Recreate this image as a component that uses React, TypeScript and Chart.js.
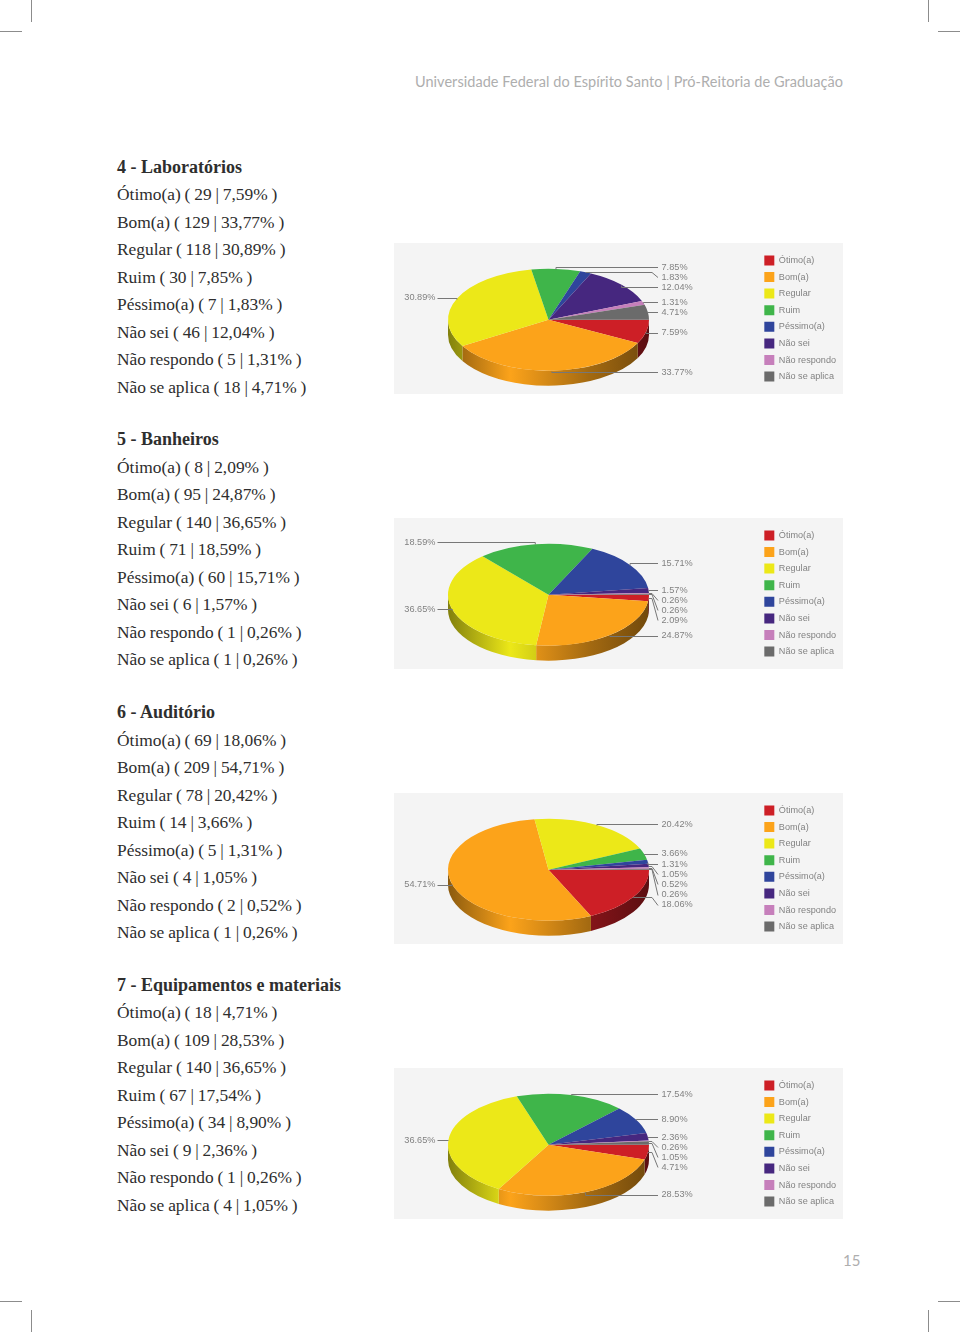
import React, { useEffect, useRef } from "react";
import { Chart, registerables } from "chart.js";

Chart.register(...registerables);

const categories = ["Ótimo(a)", "Bom(a)", "Regular", "Ruim", "Péssimo(a)", "Não sei", "Não respondo", "Não se aplica"];
const sliceColors = ["#cd1f26", "#fca31a", "#ece818", "#3fb54a", "#2f459c", "#46277f", "#c67fbb", "#6b6b6b"];

const labCounts = [29, 129, 118, 30, 7, 46, 5, 18];
const labPercents = [7.59, 33.77, 30.89, 7.85, 1.83, 12.04, 1.31, 4.71];
const banCounts = [8, 95, 140, 71, 60, 6, 1, 1];
const banPercents = [2.09, 24.87, 36.65, 18.59, 15.71, 1.57, 0.26, 0.26];
const audCounts = [69, 209, 78, 14, 5, 4, 2, 1];
const audPercents = [18.06, 54.71, 20.42, 3.66, 1.31, 1.05, 0.52, 0.26];
const equCounts = [18, 109, 140, 67, 34, 9, 1, 4];
const equPercents = [4.71, 28.53, 36.65, 17.54, 8.9, 2.36, 0.26, 1.05];

// Vertical offset of each percent label inside its panel
const labRows = [89.7, 129, 54.7, 24, 34, 44, 59.3, 69.3];
const banRows = [102.3, 117.7, 91.3, 24.3, 45.3, 72, 82, 92];
const audRows = [111.7, 91.7, 31, 60.7, 71, 81, 91.3, 101.7];
const equRows = [99, 126.7, 72.3, 26, 51.3, 69, 79, 89];

const sections = [
  { title: "4 - Laboratórios", counts: labCounts, percents: labPercents, rows: labRows, textTop: 153.7, panelTop: 243 },
  { title: "5 - Banheiros", counts: banCounts, percents: banPercents, rows: banRows, textTop: 426.2, panelTop: 518 },
  { title: "6 - Auditório", counts: audCounts, percents: audPercents, rows: audRows, textTop: 699.2, panelTop: 793 },
  { title: "7 - Equipamentos e materiais", counts: equCounts, percents: equPercents, rows: equRows, textTop: 971.7, panelTop: 1068 },
];

const PANEL_W = 449;
const PANEL_H = 151;
const PIE_CX = 154.5;
const PIE_CY = 76.7;
const PIE_RX = 100.5;
const SQUASH = 0.507;
const DEPTH = 15;
const LABEL_RIGHT_X = 267.5;
const LABEL_LEFT_END_X = 41.5;
const ELBOW_X = 258;
const LEADER_END_X = 264;
const TEXT_COLOR = "#828282";
const LEADER_COLOR = "#777777";

function shade(hex: string, f: number) {
  const n = parseInt(hex.slice(1), 16);
  const r = Math.round(((n >> 16) & 255) * f);
  const g = Math.round(((n >> 8) & 255) * f);
  const b = Math.round((n & 255) * f);
  return `rgb(${r},${g},${b})`;
}

const pie3d = {
  id: "pie3d",
  beforeDatasetsDraw(chart: any) {
    const { ctx } = chart;
    const arcs = chart.getDatasetMeta(0).data;
    const ry = PIE_RX * SQUASH;
    arcs.forEach((arc: any, i: number) => {
      const a0 = Math.max(arc.startAngle, 0);
      const a1 = Math.min(arc.endAngle, Math.PI);
      if (a1 <= a0) return;
      const base = sliceColors[i];
      const g = ctx.createLinearGradient(PIE_CX - PIE_RX, 0, PIE_CX + PIE_RX, 0);
      g.addColorStop(0, shade(base, 0.55));
      g.addColorStop(0.31, shade(base, 1));
      g.addColorStop(0.45, shade(base, 0.88));
      g.addColorStop(0.7, shade(base, 0.65));
      g.addColorStop(1, shade(base, 0.45));
      ctx.beginPath();
      ctx.ellipse(PIE_CX, PIE_CY, PIE_RX, ry, 0, a0, a1, false);
      ctx.ellipse(PIE_CX, PIE_CY + DEPTH, PIE_RX, ry, 0, a1, a0, true);
      ctx.closePath();
      ctx.fillStyle = g;
      ctx.fill();
    });
    const first = arcs[0];
    ctx.save();
    ctx.translate(PIE_CX, PIE_CY);
    ctx.scale(1, SQUASH);
    ctx.translate(-first.x, -first.y);
  },
  afterDatasetsDraw(chart: any) {
    const { ctx } = chart;
    ctx.restore();
    const arcs = chart.getDatasetMeta(0).data;
    const rows: number[] = chart.options.plugins.pie3d.rows;
    const values: number[] = chart.data.datasets[0].data;
    const ry = PIE_RX * SQUASH;
    ctx.save();
    ctx.font = "9.2px 'Liberation Sans'";
    ctx.textBaseline = "middle";
    ctx.lineWidth = 1;
    ctx.strokeStyle = LEADER_COLOR;
    arcs.forEach((arc: any, i: number) => {
      const mid = (arc.startAngle + arc.endAngle) / 2;
      const ax = PIE_CX + PIE_RX * Math.cos(mid);
      const ay = Math.round(PIE_CY + ry * Math.sin(mid)) + 0.5;
      const ly = rows[i];
      const lineY = Math.round(ly) + 0.5;
      const text = values[i].toFixed(2) + "%";
      const left = Math.cos(mid) < 0;
      ctx.beginPath();
      ctx.moveTo(ax, ay);
      if (left) {
        ctx.lineTo(ax, lineY);
        ctx.lineTo(LABEL_LEFT_END_X + 2, lineY);
      } else if (Math.abs(ay - lineY) <= 3) {
        ctx.lineTo(ax, lineY);
        ctx.lineTo(LEADER_END_X, lineY);
      } else {
        ctx.lineTo(ELBOW_X, ay);
        ctx.lineTo(LEADER_END_X, lineY);
      }
      ctx.stroke();
      ctx.fillStyle = TEXT_COLOR;
      ctx.textAlign = left ? "right" : "left";
      ctx.fillText(text, left ? LABEL_LEFT_END_X : LABEL_RIGHT_X, ly);
    });
    ctx.restore();
  },
};

function Pie({ percents, rows, top }: { percents: number[]; rows: number[]; top: number }) {
  const ref = useRef<HTMLCanvasElement>(null);
  useEffect(() => {
    const chart = new Chart(ref.current!, {
      type: "pie",
      data: {
        labels: categories,
        datasets: [{ data: percents, backgroundColor: sliceColors, borderWidth: 0, clip: false } as any],
      },
      options: {
        responsive: false,
        animation: false,
        events: [],
        rotation: 90,
        radius: PIE_RX,
        layout: { padding: { right: -3, top: 0, bottom: 0 } },
        plugins: {
          tooltip: { enabled: false },
          pie3d: { rows },
          legend: {
            position: "right",
            align: "center",
            labels: {
              boxWidth: 10,
              boxHeight: 10,
              padding: 6.6,
              color: TEXT_COLOR,
              font: { family: "'Liberation Sans'", size: 9.1 },
            },
          },
        } as any,
      },
      plugins: [pie3d as any],
    });
    return () => chart.destroy();
  }, []);
  return (
    <canvas
      ref={ref}
      width={PANEL_W}
      height={PANEL_H}
      style={{ position: "absolute", left: 394, top, width: PANEL_W, height: PANEL_H, background: "#f4f4f4" }}
    />
  );
}

const mark = (left: number, top: number, width: number, height: number) => (
  <div key={`${left}-${top}`} style={{ position: "absolute", left, top, width, height, background: "#8c8c8c" }} />
);

export default function App() {
  return (
    <div style={{ position: "absolute", left: 0, top: 0, width: 960, height: 1332, background: "#fff", overflow: "hidden" }}>
      {mark(31, 0, 1, 22)}
      {mark(0, 31, 22, 1)}
      {mark(928, 0, 1, 22)}
      {mark(938, 31, 22, 1)}
      {mark(0, 1301, 22, 1)}
      {mark(31, 1310, 1, 22)}
      {mark(938, 1301, 22, 1)}
      {mark(928, 1310, 1, 22)}
      <div
        style={{
          position: "absolute", right: 117, top: 73, whiteSpace: "nowrap",
          font: "14.5px 'Lato'", letterSpacing: "0.05px", color: "#aeaeae",
        }}
      >
        Universidade Federal do Espírito Santo | Pró-Reitoria de Graduação
      </div>
      <div style={{ position: "absolute", left: 843, top: 1251, font: "15px 'Lato'", color: "#aeaeae" }}>15</div>
      {sections.map((s) => (
        <React.Fragment key={s.title}>
          <div
            style={{
              position: "absolute", left: 117, top: s.textTop, whiteSpace: "nowrap",
              font: "17.4px/27.5px 'Liberation Serif'", color: "#2e2e2e", wordSpacing: "-0.5px",
            }}
          >
            <div style={{ fontWeight: 700, fontSize: 18, wordSpacing: 0 }}>{s.title}</div>
            {categories.map((c, i) => (
              <div key={c}>
                {c} ( {s.counts[i]} | {s.percents[i].toFixed(2).replace(".", ",")}% )
              </div>
            ))}
          </div>
          <Pie percents={s.percents} rows={s.rows} top={s.panelTop} />
        </React.Fragment>
      ))}
    </div>
  );
}
